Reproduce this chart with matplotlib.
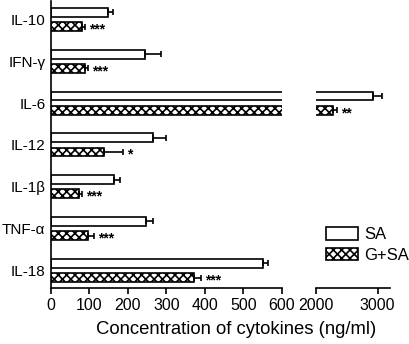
import numpy as np
import matplotlib
matplotlib.use('Agg')
import matplotlib.pyplot as plt
from matplotlib.patches import Patch

plt.rcParams['font.family'] = ['Liberation Sans', 'DejaVu Sans']
plt.rcParams['hatch.linewidth'] = 1.2

# cytokine data (ng/ml)
categories = ['IL-10', 'IFN-γ', 'IL-6', 'IL-12', 'IL-1β', 'TNF-α', 'IL-18']
sa = [147, 245, 2919, 266, 164, 248, 551]
sa_err = [13, 41, 146, 33, 16, 16, 12]
gsa = [80, 88, 2274, 138, 72, 95, 372]
gsa_err = [8, 7, 65, 48, 8, 17, 18]
stars = ['***', '***', '**', '*', '***', '***', '***']

fig = plt.figure(figsize=[4.1, 3.44], dpi=100)
ax1 = fig.add_axes([51/410, 1-288/344, (282-51)/410, 287/344])
ax2 = fig.add_axes([316/410, 1-288/344, (390-316)/410, 287/344])

y = np.arange(len(categories))
off = 0.17
h = 0.21
lw = 1.2

for ax in (ax1, ax2):
    ax.barh(y - off, sa, height=h, color='white', edgecolor='black', linewidth=lw)
    ax.barh(y + off, gsa, height=h, color='white', edgecolor='black', linewidth=lw, hatch='xxxx')
    ax.errorbar(sa, y - off, xerr=[np.zeros(len(sa)), sa_err], fmt='none',
                ecolor='black', elinewidth=lw, capsize=2.5, capthick=lw)
    ax.errorbar(gsa, y + off, xerr=[np.zeros(len(gsa)), gsa_err], fmt='none',
                ecolor='black', elinewidth=lw, capsize=2.5, capthick=lw)
    ax.set_ylim(6.42, -0.44)
    for s in ['top', 'right']:
        ax.spines[s].set_visible(False)
    ax.spines['bottom'].set_linewidth(lw)
    ax.tick_params(axis='x', direction='out', length=4, width=lw, labelsize=11.5, pad=3)

ax1.set_xlim(0, 600)
ax1.set_xticks([0, 100, 200, 300, 400, 500, 600])
ax1.spines['left'].set_linewidth(lw)
ax1.set_yticks(y)
ax1.set_yticklabels(categories, fontsize=11)
ax1.tick_params(axis='y', length=0, pad=4)

ax2.set_xlim(2000, 3200)
ax2.set_xticks([2000, 3000])
ax2.spines['left'].set_visible(False)
ax2.set_yticks([])

# significance stars
for i in range(len(categories)):
    end = gsa[i] + gsa_err[i]
    ax = ax2 if end > 600 else ax1
    ax.annotate(stars[i], xy=(end, y[i] + off), xytext=(3, -2), textcoords='offset points',
                ha='left', va='center', fontsize=10, fontweight='bold')

fig.text(236/410, 1-329/344, 'Concentration of cytokines (ng/ml)', ha='center', va='center', fontsize=13.3)

handles = [Patch(facecolor='white', edgecolor='black', linewidth=lw, label='SA'),
           Patch(facecolor='white', edgecolor='black', linewidth=lw, hatch='xxxx', label='G+SA')]
fig.legend(handles=handles, loc='upper left', bbox_to_anchor=(318/410, 1-219/344),
           frameon=False, fontsize=12, handlelength=1.9, handleheight=0.75,
           handletextpad=0.35, labelspacing=0.35, borderpad=0)

fig.savefig('out.png', dpi=100)
